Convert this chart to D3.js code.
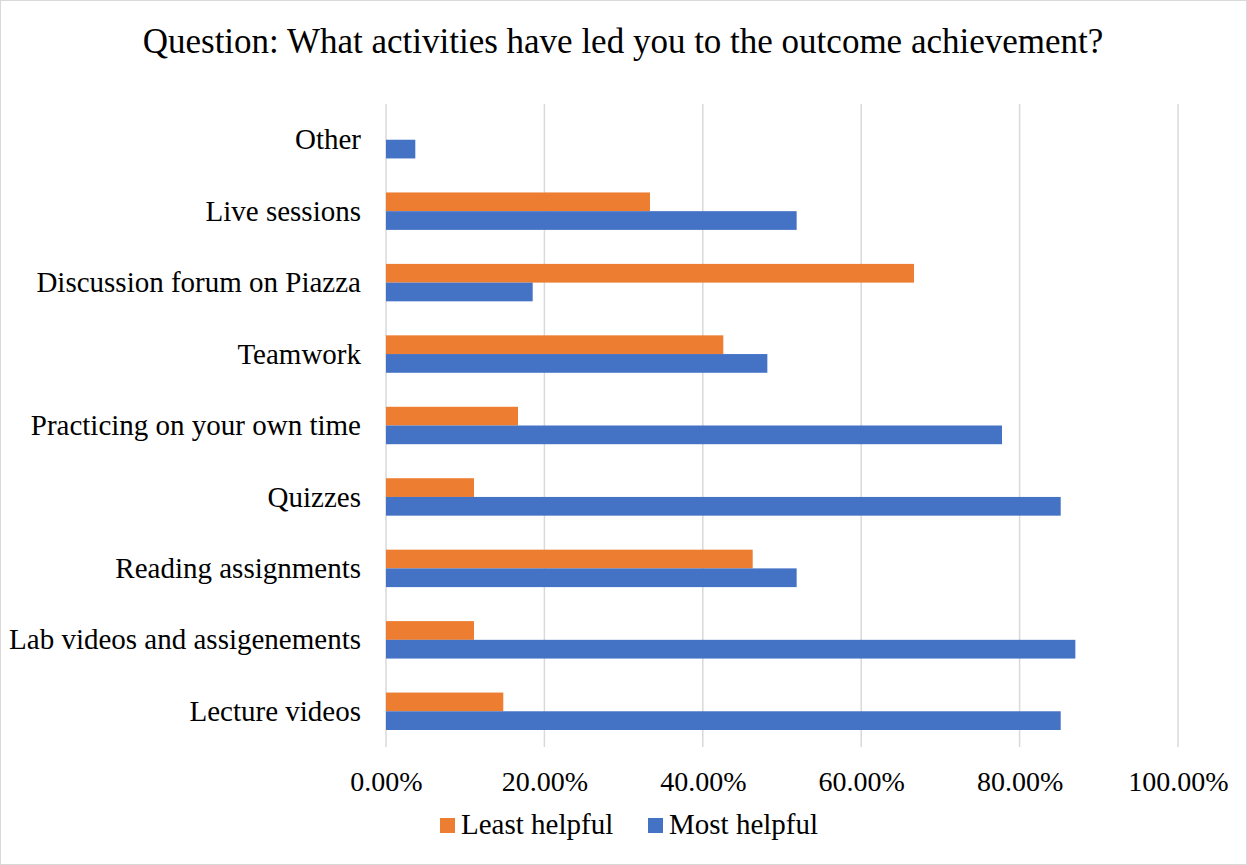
<!DOCTYPE html>
<html>
<head>
<meta charset="utf-8">
<script src="https://cdn.jsdelivr.net/npm/d3@7"></script>
<style>
  body { margin: 0; background: #fff; }
  text { font-family: "Liberation Serif", "Times New Roman", serif; fill: #000; }
</style>
</head>
<body>
<svg width="1247" height="865"></svg>
<script>
// categories top to bottom, as in the picture
var categories = ["Other", "Live sessions", "Discussion forum on Piazza", "Teamwork",
  "Practicing on your own time", "Quizzes", "Reading assignments",
  "Lab videos and assigenements", "Lecture videos"];
var seriesNames = ["Least helpful", "Most helpful"];
var leastHelpful = [0, 33.33, 66.67, 42.59, 16.67, 11.11, 46.3, 11.11, 14.81];
var mostHelpful = [3.70, 51.85, 18.52, 48.15, 77.78, 85.19, 51.85, 87.04, 85.19];
var xTicks = [0, 20, 40, 60, 80, 100];
var colors = ["#ed7d31", "#4472c4"];

var svg = d3.select("svg"),
    width = +svg.attr("width"),
    height = +svg.attr("height");

// outer chart border
svg.append("rect")
  .attr("x", 0.5).attr("y", 0.5)
  .attr("width", width - 1).attr("height", height - 1)
  .attr("fill", "#fff").attr("stroke", "#d9d9d9");

var margin = {left: 386, right: 69, top: 104, bottom: 118};

var x = d3.scaleLinear()
  .domain([0, 100])
  .range([margin.left, width - margin.right]);

var y = d3.scaleBand()
  .domain(categories)
  .range([margin.top, height - margin.bottom])
  .paddingInner(0.476)
  .paddingOuter(0.238);

var ySub = d3.scaleBand()
  .domain(seriesNames)
  .range([0, y.bandwidth()]);

// title
svg.append("text")
  .attr("x", 623)
  .attr("y", 53)
  .attr("text-anchor", "middle")
  .style("font-size", "35px")
  .text("Question: What activities have led you to the outcome achievement?");

// gridlines
svg.append("g")
  .selectAll("line")
  .data(xTicks)
  .enter().append("line")
    .attr("x1", function(d) { return x(d); })
    .attr("x2", function(d) { return x(d); })
    .attr("y1", margin.top)
    .attr("y2", height - margin.bottom)
    .attr("stroke", "#d9d9d9")
    .attr("stroke-width", 1.5);

// bars
var rows = categories.map(function(c, i) {
  return {cat: c, values: [leastHelpful[i], mostHelpful[i]]};
});

var group = svg.append("g")
  .selectAll("g")
  .data(rows)
  .enter().append("g")
    .attr("transform", function(d) { return "translate(0," + y(d.cat) + ")"; });

group.selectAll("rect")
  .data(function(d) {
    return d.values.map(function(v, j) { return {name: seriesNames[j], value: v, j: j}; });
  })
  .enter().append("rect")
    .attr("x", x(0))
    .attr("y", function(d) { return ySub(d.name); })
    .attr("width", function(d) { return x(d.value) - x(0); })
    .attr("height", ySub.bandwidth())
    .attr("fill", function(d) { return colors[d.j]; });

// category labels
svg.append("g")
  .attr("transform", "translate(" + (margin.left - 25) + ",0)")
  .call(d3.axisLeft(y).tickSize(0).tickPadding(0))
  .call(function(g) { g.select(".domain").remove(); })
  .selectAll("text")
    .style("font-size", "29px")
    .attr("font-family", null)
    .attr("dy", "0.33em");

// x axis labels
svg.append("g")
  .attr("transform", "translate(0," + (height - margin.bottom) + ")")
  .call(d3.axisBottom(x).tickValues(xTicks).tickSize(0).tickPadding(0)
    .tickFormat(function(d) { return d.toFixed(2) + "%"; }))
  .call(function(g) { g.select(".domain").remove(); })
  .selectAll("text")
    .style("font-size", "28px")
    .attr("font-family", null)
    .attr("dy", null)
    .attr("y", 44);

// legend
var legendX = [440, 648];
var legend = svg.append("g")
  .selectAll("g")
  .data(seriesNames)
  .enter().append("g")
    .attr("transform", function(d, i) { return "translate(" + legendX[i] + ",818)"; });

legend.append("rect")
  .attr("width", 15).attr("height", 15)
  .attr("fill", function(d, i) { return colors[i]; });

legend.append("text")
  .attr("x", 21)
  .attr("y", 16)
  .style("font-size", "29px")
  .text(function(d) { return d; });
</script>
</body>
</html>
